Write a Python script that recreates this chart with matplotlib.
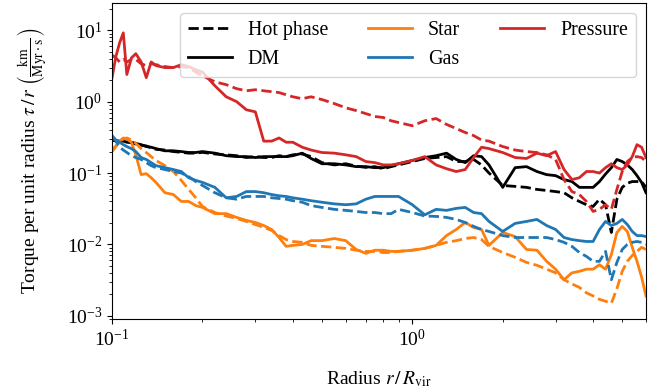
import matplotlib
matplotlib.use("Agg")
from matplotlib import pyplot as plt
import numpy as np

plt.rcParams['font.family'] = ['Liberation Serif', 'DejaVu Serif']
plt.rcParams['mathtext.fontset'] = 'stix'
plt.rcParams['font.size'] = 14

# radius bins r / R_vir
radius = [0.100, 0.103, 0.106, 0.109, 0.112, 0.116, 0.12, 0.125, 0.13, 0.135,
          0.14, 0.15, 0.16, 0.17, 0.18, 0.19, 0.20, 0.22, 0.24, 0.26,
          0.28, 0.30, 0.32, 0.34, 0.36, 0.38, 0.40, 0.43, 0.46, 0.50,
          0.55, 0.60, 0.65, 0.70, 0.75, 0.80, 0.85, 0.90, 1.0, 1.1,
          1.2, 1.3, 1.4, 1.5, 1.6, 1.7, 1.8, 2.0, 2.2, 2.4,
          2.6, 2.8, 3.0, 3.2, 3.4, 3.6, 3.8, 4.0, 4.2, 4.4,
          4.6, 4.8, 5.0, 5.2, 5.4, 5.6, 5.8, 6.0]

dm_all = [0.29, 0.285, 0.28, 0.28, 0.27, 0.27, 0.26, 0.25, 0.235, 0.23,
          0.22, 0.205, 0.205, 0.20, 0.194, 0.194, 0.20, 0.19, 0.175, 0.17,
          0.17, 0.165, 0.17, 0.17, 0.17, 0.17, 0.175, 0.19, 0.16, 0.135,
          0.135, 0.13, 0.123, 0.123, 0.119, 0.119, 0.127, 0.135, 0.15, 0.165,
          0.175, 0.19, 0.155, 0.14, 0.175, 0.17, 0.13, 0.063, 0.119, 0.123,
          0.105, 0.095, 0.092, 0.081, 0.076, 0.063, 0.063, 0.063, 0.076, 0.097,
          0.119, 0.155, 0.145, 0.13, 0.112, 0.092, 0.074, 0.053]
dm_hot = [0.29, 0.28, 0.275, 0.27, 0.275, 0.265, 0.255, 0.245, 0.24, 0.225,
          0.215, 0.21, 0.20, 0.195, 0.19, 0.19, 0.195, 0.185, 0.18, 0.175,
          0.165, 0.17, 0.165, 0.165, 0.175, 0.17, 0.18, 0.185, 0.17, 0.14,
          0.13, 0.135, 0.125, 0.12, 0.123, 0.115, 0.123, 0.13, 0.145, 0.16,
          0.165, 0.17, 0.145, 0.145, 0.155, 0.13, 0.10, 0.067, 0.065, 0.063,
          0.059, 0.057, 0.055, 0.053, 0.045, 0.040, 0.036, 0.034, 0.043, 0.036,
          0.0147, 0.043, 0.063, 0.072, 0.076, 0.076, 0.076, 0.063]
star_all = [0.21, 0.24, 0.28, 0.31, 0.30, 0.27, 0.18, 0.095, 0.098, 0.086,
            0.074, 0.053, 0.050, 0.040, 0.040, 0.035, 0.033, 0.027, 0.027, 0.0239,
            0.0217, 0.0203, 0.0184, 0.0162, 0.0125, 0.0094, 0.0097, 0.0100, 0.0113, 0.0113,
            0.0121, 0.0113, 0.0085, 0.0075, 0.0083, 0.0083, 0.0080, 0.0080, 0.0083, 0.0088,
            0.0097, 0.0133, 0.0162, 0.0203, 0.0173, 0.0162, 0.0097, 0.0147, 0.0129, 0.0085,
            0.0083, 0.0058, 0.0045, 0.0032, 0.0040, 0.0042, 0.0045, 0.0045, 0.0052, 0.0045,
            0.0072, 0.0147, 0.0179, 0.0152, 0.0091, 0.0058, 0.0035, 0.0019]
star_hot = [0.20, 0.235, 0.28, 0.30, 0.31, 0.29, 0.26, 0.22, 0.194, 0.17,
            0.15, 0.127, 0.105, 0.079, 0.059, 0.045, 0.034, 0.028, 0.025, 0.0231,
            0.021, 0.019, 0.0173, 0.0157, 0.0133, 0.0117, 0.0110, 0.0107, 0.0097, 0.0094,
            0.0091, 0.0088, 0.0083, 0.0080, 0.0080, 0.0077, 0.0077, 0.0080, 0.0083, 0.0088,
            0.0097, 0.0107, 0.0113, 0.0121, 0.0125, 0.0117, 0.0094, 0.0077, 0.0066, 0.0056,
            0.0051, 0.0045, 0.0040, 0.0032, 0.0028, 0.0025, 0.0021, 0.0019, 0.0017, 0.0016,
            0.0015, 0.0024, 0.0042, 0.0058, 0.0070, 0.0080, 0.0091, 0.0085]
gas_all = [0.335, 0.29, 0.27, 0.25, 0.235, 0.22, 0.20, 0.165, 0.155, 0.14,
           0.127, 0.119, 0.112, 0.105, 0.086, 0.079, 0.074, 0.063, 0.045, 0.047,
           0.055, 0.055, 0.053, 0.050, 0.048, 0.047, 0.045, 0.043, 0.041, 0.039,
           0.037, 0.036, 0.037, 0.043, 0.047, 0.047, 0.047, 0.047, 0.036, 0.026,
           0.031, 0.030, 0.032, 0.033, 0.028, 0.027, 0.021, 0.0152, 0.0197, 0.021,
           0.0224, 0.0184, 0.0162, 0.0125, 0.0117, 0.0113, 0.0110, 0.0110, 0.0162, 0.021,
           0.0184, 0.0197, 0.0224, 0.019, 0.0152, 0.0133, 0.0133, 0.0129]
gas_hot = [0.32, 0.28, 0.23, 0.21, 0.194, 0.175, 0.165, 0.155, 0.14, 0.127,
           0.119, 0.112, 0.105, 0.10, 0.089, 0.076, 0.067, 0.053, 0.045, 0.043,
           0.047, 0.047, 0.047, 0.045, 0.044, 0.043, 0.041, 0.039, 0.035, 0.033,
           0.031, 0.030, 0.029, 0.028, 0.028, 0.027, 0.027, 0.031, 0.028, 0.025,
           0.0247, 0.0239, 0.0224, 0.0203, 0.0179, 0.0162, 0.0152, 0.0133, 0.0125, 0.0125,
           0.0125, 0.0125, 0.0117, 0.0107, 0.0094, 0.0077, 0.0068, 0.0058, 0.0058, 0.0080,
           0.0032, 0.0056, 0.0085, 0.0100, 0.0107, 0.0110, 0.0107, 0.0100]
pressure_all = [2.17, 4.3, 6.7, 9.2, 2.4, 4.1, 4.7, 3.6, 2.17, 3.6,
                3.2, 3.0, 3.0, 3.3, 3.1, 2.8, 2.6, 1.67, 1.17, 1.0,
                0.77, 0.72, 0.28, 0.28, 0.31, 0.27, 0.27, 0.23, 0.21, 0.194,
                0.19, 0.18, 0.17, 0.145, 0.14, 0.13, 0.13, 0.135, 0.15, 0.17,
                0.13, 0.115, 0.105, 0.112, 0.165, 0.23, 0.22, 0.194, 0.165, 0.16,
                0.19, 0.175, 0.20, 0.112, 0.081, 0.086, 0.105, 0.105, 0.10, 0.119,
                0.135, 0.119, 0.112, 0.13, 0.17, 0.25, 0.23, 0.165]
pressure_hot = [4.5, 4.1, 3.6, 3.9, 3.6, 3.9, 3.9, 3.4, 3.2, 3.4,
                3.3, 3.1, 3.0, 3.1, 3.0, 2.6, 2.3, 1.9, 1.73, 1.52,
                1.42, 1.47, 1.42, 1.38, 1.34, 1.25, 1.17, 1.10, 1.17, 1.07,
                0.94, 0.82, 0.75, 0.68, 0.62, 0.60, 0.54, 0.51, 0.46, 0.54,
                0.58, 0.48, 0.42, 0.37, 0.335, 0.29, 0.28, 0.235, 0.21, 0.20,
                0.194, 0.18, 0.155, 0.081, 0.055, 0.050, 0.040, 0.029, 0.031, 0.036,
                0.031, 0.059, 0.105, 0.145, 0.165, 0.17, 0.165, 0.145]

fig = plt.figure(figsize=(6.67, 3.92), dpi=100)
ax = fig.add_axes([0.168, 0.186, 0.8005, 0.806])

lw = 2.0
ax.plot(radius, dm_hot, color='black', ls='--', lw=lw, label='Hot phase')
ax.plot(radius, dm_all, color='black', lw=lw, label='DM')
ax.plot(radius, star_hot, color='tab:orange', ls='--', lw=lw)
ax.plot(radius, star_all, color='tab:orange', lw=lw, label='Star')
ax.plot(radius, gas_hot, color='tab:blue', ls='--', lw=lw)
ax.plot(radius, gas_all, color='tab:blue', lw=lw, label='Gas')
ax.plot(radius, pressure_hot, color='tab:red', ls='--', lw=lw)
ax.plot(radius, pressure_all, color='tab:red', lw=lw, label='Pressure')

ax.set_xscale('log')
ax.set_yscale('log')
ax.set_xlim(0.1, 6.0)
ax.set_ylim(9e-4, 24)
ax.set_xlabel(r'Radius $r\,/\,R_{\rm vir}$', labelpad=14)
ax.set_ylabel(r'Torque per unit radius $\tau\,/\,r\ \left(\frac{\rm km}{\rm Myr\cdot s}\right)$', labelpad=13)

handles, labels = ax.get_legend_handles_labels()
ax.legend(handles, labels, ncol=3, loc='upper right', fontsize=14.4, handlelength=2.2)

plt.savefig("out.png", dpi=100)
